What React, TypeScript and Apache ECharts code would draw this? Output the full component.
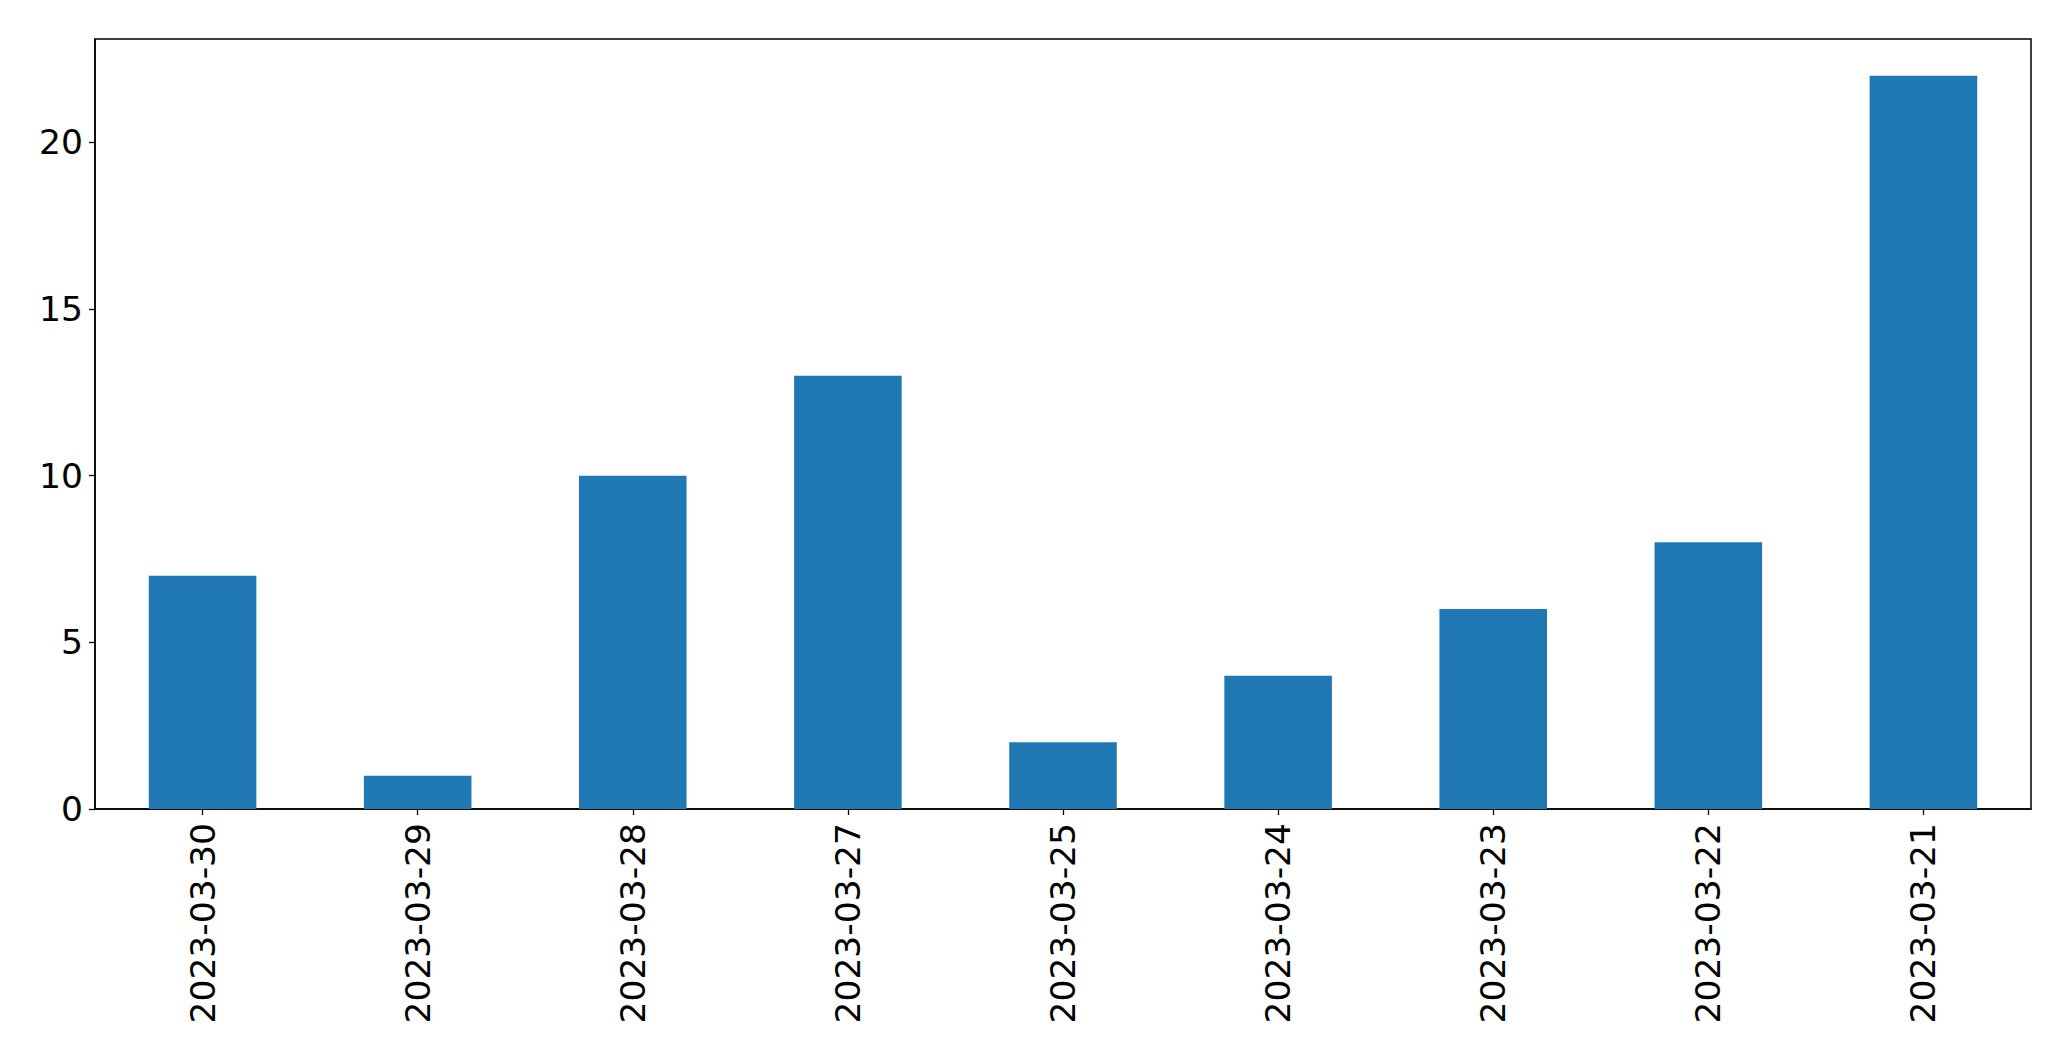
import React, { useEffect, useRef } from "react";
import * as echarts from "echarts";

const categories: string[] = [
  "2023-03-30",
  "2023-03-29",
  "2023-03-28",
  "2023-03-27",
  "2023-03-25",
  "2023-03-24",
  "2023-03-23",
  "2023-03-22",
  "2023-03-21",
];
const values: number[] = [7, 1, 10, 13, 2, 4, 6, 8, 22];
const yTicks: number[] = [0, 5, 10, 15, 20];

export default function App() {
  const ref = useRef<HTMLDivElement>(null);
  useEffect(() => {
    document.body.style.margin = "0";
    const chart = echarts.init(ref.current!, null, { renderer: "svg" });
    const font = "DejaVu Sans";
    chart.setOption({
      animation: false,
      backgroundColor: "#ffffff",
      grid: {
        left: 95,
        top: 39,
        right: 40,
        bottom: 252,
        show: true,
        borderColor: "#000000",
        borderWidth: 1.5,
        backgroundColor: "transparent",
      },
      xAxis: {
        type: "category",
        data: categories,
        axisLine: { show: true, lineStyle: { color: "#000", width: 1.5 } },
        axisTick: {
          show: true,
          alignWithLabel: true,
          length: 6,
          lineStyle: { color: "#000", width: 1.3 },
        },
        axisLabel: {
          rotate: 90,
          margin: 14,
          color: "#000",
          fontSize: 34.5,
          fontFamily: font,
          interval: 0,
        },
        splitLine: { show: false },
      },
      yAxis: {
        type: "value",
        min: 0,
        max: 23.1,
        interval: 5,
        axisLine: { show: true, lineStyle: { color: "#000", width: 1.5 } },
        axisTick: {
          show: true,
          length: 6,
          customValues: yTicks,
          lineStyle: { color: "#000", width: 1.3 },
        },
        axisLabel: {
          customValues: yTicks,
          margin: 12,
          color: "#000",
          fontSize: 34.5,
          fontFamily: font,
        },
        splitLine: { show: false },
      },
      series: [
        {
          type: "bar",
          data: values,
          barWidth: "50%",
          itemStyle: { color: "#1f77b4" },
        },
      ],
    });
    return () => chart.dispose();
  }, []);
  return (
    <div
      ref={ref}
      style={{ position: "absolute", left: 0, top: 0, width: 2071, height: 1061 }}
    />
  );
}
